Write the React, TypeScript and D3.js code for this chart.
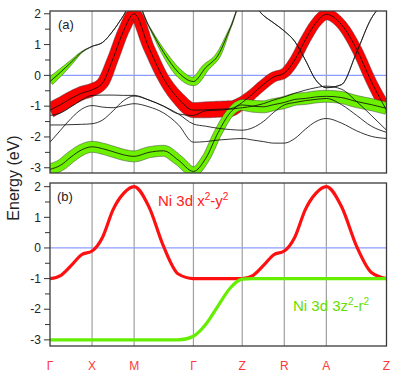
import React, {useRef, useEffect} from 'react'
import * as d3 from 'd3'

// k-path sample positions (units of the X-M length)
const kGrid = [0, 0.25, 0.5, 0.75, 1, 1.25, 1.5, 1.75, 2, 2.35, 2.7, 3.05, 3.41, 3.7, 4.0, 4.29, 4.57, 4.82, 5.07, 5.32, 5.57, 5.82, 6.07, 6.32, 6.57, 6.93, 7.29, 7.64, 8.0]
const kTicks = [0, 1, 2, 3.41, 4.57, 5.57, 6.57, 8.0]
const kLabels = ['Γ', 'X', 'M', 'Γ', 'Z', 'R', 'A', 'Z']
const eTicks = [2, 1, 0, -1, -2, -3]

// (a) DFT bands, energies in eV
const bandUpper = [-0.2, 0.1, 0.42, 0.75, 0.94, 1.07, 1.45, 1.95, 2.5, 1.6, 0.75, 0.1, -0.2, 0.25, 0.66, 1.55, 2.4, 2.3, 1.95, 1.7, 1.44, 1.1, 0.5, -0.15, -0.4, -0.3, 0.75, 1.85, 2.4]
const bandX2Y2 = [-1.13, -0.95, -0.75, -0.58, -0.47, -0.25, 0.55, 1.45, 2.0, 0.9, -0.1, -0.75, -1.13, -1.12, -1.1, -1.08, -0.88, -0.6, -0.3, -0.05, 0.07, 0.5, 1.15, 1.7, 1.98, 1.65, 0.85, -0.2, -1.13]
const band3Z2 = [-3.05, -2.92, -2.65, -2.42, -2.32, -2.38, -2.48, -2.58, -2.63, -2.5, -2.45, -2.75, -3.12, -2.7, -1.85, -1.2, -0.96, -1.0, -1.02, -0.95, -0.88, -0.78, -0.75, -0.7, -0.68, -0.72, -0.85, -0.95, -1.07]
const bandL3 = [-1.3, -1.22, -1.02, -0.8, -0.65, -0.64, -0.64, -0.65, -0.65, -0.8, -1.0, -1.25, -1.58, -1.65, -1.72, -1.76, -1.78, -1.7, -1.5, -1.2, -0.96, -0.88, -0.82, -0.78, -0.75, -0.95, -1.3, -1.65, -1.85]
const bandL4 = [-1.61, -1.61, -1.6, -1.59, -1.57, -1.45, -1.15, -0.82, -0.67, -0.8, -1.0, -1.25, -1.3, -1.15, -1.13, -1.1, -1.05, -1.0, -0.92, -0.8, -0.7, -0.58, -0.48, -0.4, -0.35, -0.45, -0.85, -1.3, -1.78]
const bandL5 = [-2.17, -1.78, -1.4, -1.1, -0.98, -1.03, -1.05, -0.98, -0.92, -1.02, -1.22, -1.6, -2.17, -2.15, -2.1, -2.07, -2.05, -2.1, -2.15, -2.2, -2.2, -2.05, -1.75, -1.5, -1.4, -1.55, -1.8, -1.98, -2.05]

// orbital weights (fat bands)
const wX2Y2 = [0.75, 0.72, 0.7, 0.68, 0.65, 0.6, 0.55, 0.55, 0.6, 0.55, 0.55, 0.65, 0.75, 0.8, 0.8, 0.8, 0.6, 0.5, 0.5, 0.5, 0.5, 0.5, 0.5, 0.5, 0.55, 0.5, 0.5, 0.5, 0.55]
const wUpper3Z2 = [0.4, 0.32, 0.2, 0.06, 0, 0, 0, 0, 0, 0.03, 0.22, 0.38, 0.42, 0.36, 0.25, 0.06, 0, 0, 0, 0, 0, 0, 0, 0, 0, 0, 0, 0, 0]
const w3Z2 = [0.55, 0.55, 0.55, 0.55, 0.55, 0.55, 0.55, 0.55, 0.55, 0.55, 0.55, 0.5, 0.45, 0.4, 0.4, 0.4, 0.55, 0.6, 0.6, 0.6, 0.6, 0.6, 0.6, 0.6, 0.6, 0.6, 0.6, 0.6, 0.6]

// (b) tight-binding bands
const tbX2Y2 = [-1, -0.9, -0.58, -0.22, -0.1, 0.35, 1.25, 1.78, 2, 1.35, 0.05, -0.85, -1, -1, -1, -1, -1, -0.9, -0.58, -0.22, -0.1, 0.35, 1.25, 1.78, 2, 1.35, 0.05, -0.8, -1]
const tb3Z2 = [-3, -3, -3, -3, -3, -3, -3, -3, -3, -3, -3, -3, -2.88, -2.5, -1.88, -1.3, -1.02, -1, -1, -1, -1, -1, -1, -1, -1, -1, -1, -1, -1]

const FONT = 'Liberation Sans, Arial, sans-serif'
const RED = '#ff0000'
const GREEN = '#6cf000'
const FAT = 20

export default function App() {
  const ref = useRef(null)

  useEffect(() => {
    const svg = d3.select(ref.current)
    svg.selectAll('*').remove()

    const x = d3.scaleLinear().domain([0, 8]).range([50, 386.5])
    const xs = kGrid.map(k => x(k))

    function panel(id, top, bottom, domain) {
      const y = d3.scaleLinear().domain(domain).range([bottom, top])
      svg
        .append('clipPath')
        .attr('id', id)
        .append('rect')
        .attr('x', 50)
        .attr('y', top)
        .attr('width', 336.5)
        .attr('height', bottom - top)
      const g = svg.append('g').attr('clip-path', `url(#${id})`)

      g.selectAll('line.v')
        .data(kTicks.slice(1, -1))
        .enter()
        .append('line')
        .attr('x1', d => x(d))
        .attr('x2', d => x(d))
        .attr('y1', top)
        .attr('y2', bottom)
        .attr('stroke', '#a0a0a0')
        .attr('stroke-width', 1.2)
      g.append('line')
        .attr('x1', 50)
        .attr('x2', 386.5)
        .attr('y1', y(0))
        .attr('y2', y(0))
        .attr('stroke', '#8c9cff')
        .attr('stroke-width', 1.3)

      // y axis ticks
      const axis = svg.append('g')
      eTicks.forEach(t => {
        axis
          .append('text')
          .attr('x', 41)
          .attr('y', y(t))
          .attr('dy', '0.35em')
          .attr('text-anchor', 'end')
          .attr('font-family', FONT)
          .attr('font-size', 12)
          .attr('fill', '#222')
          .text(t)
        axis
          .append('line')
          .attr('x1', 44)
          .attr('x2', 50)
          .attr('y1', y(t))
          .attr('y2', y(t))
          .attr('stroke', '#333')
        if (t > domain[0] + 0.5) {
          axis
            .append('line')
            .attr('x1', 45)
            .attr('x2', 50)
            .attr('y1', y(t - 0.5))
            .attr('y2', y(t - 0.5))
            .attr('stroke', '#333')
        }
      })
      return {g, y}
    }

    function curve(y, vals) {
      return d3
        .line()
        .x((d, i) => xs[i])
        .y(d => y(d))
        .curve(d3.curveMonotoneX)(vals)
    }

    function fatBand(g, y, vals, weights, color) {
      const tmp = g.append('path').attr('d', curve(y, vals)).attr('fill', 'none')
      const node = tmp.node()
      const len = node.getTotalLength()
      const n = Math.ceil(len / 1.2)
      const pts = d3.range(n + 1).map(i => node.getPointAtLength((len * i) / n))
      tmp.remove()
      const half = d3
        .scaleLinear()
        .domain(xs)
        .range(weights.map(w => (w * FAT) / 2))
        .clamp(true)
      const up = []
      const lo = []
      pts.forEach((p, i) => {
        const a = pts[Math.max(0, i - 1)]
        const b = pts[Math.min(n, i + 1)]
        const dx = b.x - a.x
        const dy = b.y - a.y
        const l = Math.hypot(dx, dy) || 1
        const h = half(p.x)
        up.push([p.x - (dy / l) * h, p.y + (dx / l) * h])
        lo.push([p.x + (dy / l) * h, p.y - (dx / l) * h])
      })
      g.append('path')
        .attr('d', d3.line()(up.concat(lo.reverse())) + 'Z')
        .attr('fill', color)
        .attr('stroke', '#3a3a3a')
        .attr('stroke-width', 0.6)
        .attr('stroke-opacity', 0.8)
    }

    // panel (a)
    const a = panel('clipA', 11, 173, [-3.17, 2.09])
    fatBand(a.g, a.y, bandX2Y2, wX2Y2, RED)
    fatBand(a.g, a.y, bandUpper, wUpper3Z2, GREEN)
    fatBand(a.g, a.y, band3Z2, w3Z2, GREEN)
    ;[bandUpper, bandX2Y2, band3Z2, bandL3, bandL4, bandL5].forEach(b => {
      a.g
        .append('path')
        .attr('d', curve(a.y, b))
        .attr('fill', 'none')
        .attr('stroke', '#111')
        .attr('stroke-width', 0.85)
    })

    // panel (b)
    const b = panel('clipB', 183, 346, [-3.2, 2.12])
    b.g
      .append('path')
      .attr('d', curve(b.y, tbX2Y2))
      .attr('fill', 'none')
      .attr('stroke', '#ff1010')
      .attr('stroke-width', 3.2)
    b.g
      .append('path')
      .attr('d', curve(b.y, tb3Z2))
      .attr('fill', 'none')
      .attr('stroke', '#66ee00')
      .attr('stroke-width', 3.2)

    // frames
    ;[[11, 173], [183, 346]].forEach(([t, bt]) => {
      svg
        .append('rect')
        .attr('x', 50)
        .attr('y', t)
        .attr('width', 336.5)
        .attr('height', bt - t)
        .attr('fill', 'none')
        .attr('stroke', '#3a3a3a')
        .attr('stroke-width', 1.3)
    })

    const txt = (tx, ty, s, size, fill) =>
      svg
        .append('text')
        .attr('x', tx)
        .attr('y', ty)
        .attr('font-family', FONT)
        .attr('font-size', size)
        .attr('fill', fill)
        .text(s)

    txt(58, 29, '(a)', 13, '#222')
    txt(57, 201, '(b)', 13, '#222')

    const lab1 = txt(158, 206, 'Ni 3d x', 15, '#ff2020')
    lab1.append('tspan').attr('dy', -6).attr('font-size', 10).text('2')
    lab1.append('tspan').attr('dy', 6).text('-y')
    lab1.append('tspan').attr('dy', -6).attr('font-size', 10).text('2')

    const lab2 = txt(293, 311, 'Ni 3d 3z', 15, '#66dd00')
    lab2.append('tspan').attr('dy', -6).attr('font-size', 10).text('2')
    lab2.append('tspan').attr('dy', 6).text('-r')
    lab2.append('tspan').attr('dy', -6).attr('font-size', 10).text('2')

    kTicks.forEach((k, i) => {
      svg
        .append('text')
        .attr('x', x(k))
        .attr('y', 370)
        .attr('text-anchor', 'middle')
        .attr('font-family', FONT)
        .attr('font-size', 12)
        .attr('fill', '#ff3838')
        .text(kLabels[i])
    })

    svg
      .append('text')
      .attr('transform', 'translate(18.5,178) rotate(-90)')
      .attr('text-anchor', 'middle')
      .attr('font-family', FONT)
      .attr('font-size', 16)
      .attr('fill', '#222')
      .text('Energy (eV)')
  }, [])

  return (
    <svg
      ref={ref}
      width={399}
      height={374}
      style={{position: 'absolute', left: 0, top: 0, background: '#fff'}}
    />
  )
}
